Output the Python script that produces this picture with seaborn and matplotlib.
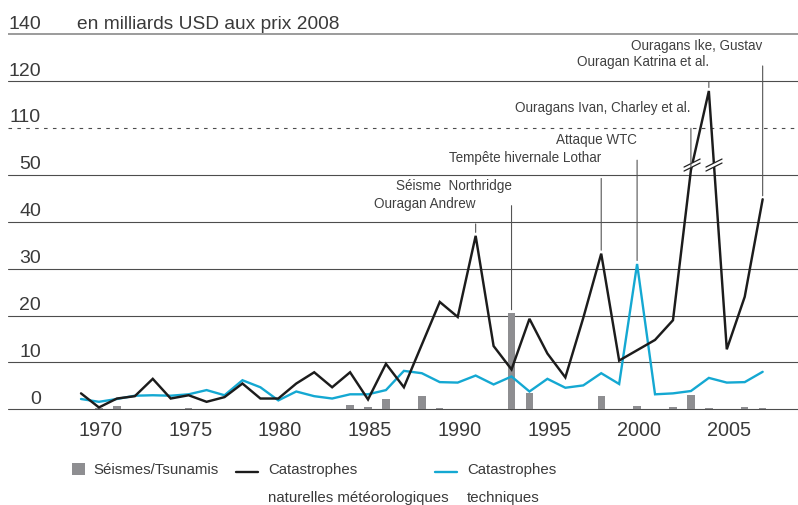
import numpy as np
import pandas as pd
import matplotlib
matplotlib.use("Agg")
import matplotlib.pyplot as plt
import matplotlib.transforms as mtransforms
from matplotlib import font_manager as fm
from matplotlib.lines import Line2D
from matplotlib.patches import Patch
import seaborn as sns

# ---------------- data ----------------
years = list(range(1970, 2009))
seismic = [0.0, 0.3, 0.7, 0.1, 0.0, 0.0, 0.2, 0.0, 0.0, 0.0,
           0.1, 0.0, 0.0, 0.1, 0.0, 0.9, 0.5, 2.2, 0.0, 2.8,
           0.3, 0.0, 0.0, 0.0, 20.5, 3.4, 0.0, 0.0, 0.0, 2.8,
           0.0, 0.7, 0.0, 0.5, 3.0, 0.3, 0.0, 0.5, 0.3]
weather = [3.4, 0.4, 2.3, 2.8, 6.5, 2.3, 3.0, 1.6, 2.6, 5.5,
           2.3, 2.3, 5.5, 7.9, 4.7, 7.9, 2.1, 9.7, 4.7, 13.8,
           22.9, 19.7, 37.0, 13.5, 8.5, 19.3, 11.9, 6.8, 19.5, 33.2,
           10.4, 12.6, 14.8, 19.0, 56.0, 117.9, 12.8, 24.0, 44.8]
technical = [2.2, 1.6, 2.2, 2.9, 3.0, 2.9, 3.2, 4.1, 3.0, 6.2,
             4.7, 1.9, 3.8, 2.8, 2.3, 3.2, 3.2, 4.1, 8.2, 7.7,
             5.8, 5.7, 7.2, 5.3, 7.0, 3.8, 6.5, 4.6, 5.1, 7.7,
             5.4, 31.0, 3.2, 3.4, 3.9, 6.7, 5.7, 5.8, 8.0]

series_names = ["Séismes/Tsunamis",
                "Catastrophes\nnaturelles météorologiques",
                "Catastrophes\ntechniques"]
unit_label = "en milliards USD aux prix 2008"

xtick_years = [1970, 1975, 1980, 1985, 1990, 1995, 2000, 2005]
ytick_labels = ["0", "10", "20", "30", "40", "50", "110", "120", "140"]

events = ["Ouragan Andrew", "Séisme  Northridge", "Tempête hivernale Lothar",
          "Attaque WTC", "Ouragans Ivan, Charley et al.",
          "Ouragan Katrina et al.", "Ouragans Ike, Gustav"]
event_years = [1992, 1994, 1999, 2001, 2004, 2005, 2008]
event_series = ["weather", "seismic", "weather", "technical",
                "weather", "weather", "weather"]

# ---------------- layout / style ----------------
W, H = 798, 505
ytick_slots = [0, 10, 20, 30, 40, 50, 60, 70, 80]   # slot positions of the broken axis
event_label_heights = [43.8, 47.7, 53.5, 57.4, 64.2, 74.1, 77.5]
label_shift = 1.1           # reference year labels sit right of the data points
break_level = 52.1

col_bar = "#8e8e91"
col_weather = "#1c1c1c"
col_tech = "#14a8d2"
col_text = "#3a3a3a"
col_grid = "#4d4d4d"


def to_display(v):
    """Broken axis: linear to 50, compressed 50-110, then linear again."""
    v = np.asarray(v, dtype=float)
    return np.where(v <= 50, v, np.where(v < 110, 50 + (v - 50) / 6.0, v - 50))


sns.set_style("white")
avail = {f.name for f in fm.fontManager.ttflist}
base_font = "Liberation Sans" if "Liberation Sans" in avail else "DejaVu Sans"
if "Liberation Sans Narrow" in avail:
    narrow_font, narrow_scale = "Liberation Sans Narrow", 1.1
else:
    narrow_font, narrow_scale = base_font, 0.87
plt.rcParams["font.family"] = [base_font, "DejaVu Sans"]

df = pd.DataFrame({"year": years, "seismic": seismic,
                   "weather": weather, "technical": technical})
df["weather_d"] = to_display(df["weather"])
df["technical_d"] = to_display(df["technical"])
df["seismic_d"] = to_display(df["seismic"])

fig = plt.figure(figsize=(W / 100, H / 100), dpi=100)
ax_px = (8, 91, 790, 414)    # left, bottom, width, height in pixels
ax = fig.add_axes([ax_px[0] / W, ax_px[1] / H, ax_px[2] / W, ax_px[3] / H])
xlim = (1965.93, 2009.97)
ylim = (-1.0, 87.3)

# horizontal rules of the (broken) value axis
for slot, lab in zip(ytick_slots, ytick_labels):
    if lab == "110":
        ax.axhline(slot, color=col_grid, lw=0.8, ls=(0, (3.2, 4.8)), zorder=0)
    elif lab == "140":
        ax.axhline(slot, color="#808080", lw=1.1, zorder=0)
    else:
        ax.axhline(slot, color=col_grid, lw=0.8, zorder=0)

sns.barplot(data=df, x="year", y="seismic_d", native_scale=True, width=0.41,
            color=col_bar, saturation=1, errorbar=None, linewidth=0,
            ax=ax, zorder=2)
sns.lineplot(data=df, x="year", y="technical_d", color=col_tech, lw=1.7,
             ax=ax, zorder=3, legend=False, solid_joinstyle="miter")
sns.lineplot(data=df, x="year", y="weather_d", color=col_weather, lw=1.75,
             ax=ax, zorder=4, legend=False, solid_joinstyle="miter")

ax.set_xlim(*xlim)
ax.set_ylim(*ylim)
for s in ax.spines.values():
    s.set_visible(False)
ax.set_xlabel("")
ax.set_ylabel("")

# x ticks
ax.set_xticks(np.array(xtick_years) + label_shift, labels=[str(y) for y in xtick_years])
ax.tick_params(axis="x", length=0, pad=5, labelsize=14.3, labelcolor=col_text)

# y tick labels sitting above their rules
ax.set_yticks(ytick_slots, labels=ytick_labels)
ax.tick_params(axis="y", length=0, pad=-23.8, labelsize=14.0, labelcolor=col_text)
up = mtransforms.ScaledTranslation(0, 0.056, fig.dpi_scale_trans)
for lbl in ax.get_yticklabels():
    lbl.set_horizontalalignment("right")
    lbl.set_verticalalignment("baseline")
    lbl.set_transform(lbl.get_transform() + up)

title_tr = mtransforms.blended_transform_factory(ax.transAxes, ax.transData) + up
ax.text((77 - ax_px[0]) / ax_px[2], ytick_slots[-1], unit_label, transform=title_tr,
        ha="left", va="baseline", fontsize=13.8, color=col_text)

# break marks on segments crossing the axis break
px_x = ax_px[2] / (xlim[1] - xlim[0])
px_y = ax_px[3] / (ylim[1] - ylim[0])
wd = df["weather_d"].to_numpy()
L = 9.0
dvec = np.array([1.0, 0.5]) / np.hypot(1.0, 0.5) * L
for i in range(len(years) - 1):
    a, b = wd[i], wd[i + 1]
    if (a - break_level) * (b - break_level) < 0:
        t = (break_level - a) / (b - a)
        xc = years[i] + t
        xs = np.array([xc - dvec[0] / px_x, xc + dvec[0] / px_x])
        ys = np.array([break_level - dvec[1] / px_y, break_level + dvec[1] / px_y])
        ax.plot(xs, ys, color="white", lw=2.6, zorder=5, solid_capstyle="butt")
        for off in (-2.0, 2.0):
            ax.plot(xs, ys + off / px_y, color="#222222", lw=0.9, zorder=6)

# event annotations
series_lookup = {"weather": df["weather_d"], "seismic": df["seismic_d"],
                 "technical": df["technical_d"]}
for name, yr, ser, lh in zip(events, event_years, event_series, event_label_heights):
    target = float(series_lookup[ser][years.index(yr)])
    ax.annotate(name, xy=(yr, target), xytext=(yr, lh), textcoords="data",
                ha="right", va="center", fontsize=11.2 * narrow_scale,
                family=[narrow_font, "DejaVu Sans"], color="#404040",
                arrowprops=dict(arrowstyle="-", color="#555555", lw=0.8,
                                shrinkA=7, shrinkB=2.5, relpos=(1, 0.5)),
                annotation_clip=False, zorder=7)

# legend: three single-entry legends placed like the reference
leg_size = 12.4 * narrow_scale
leg_font = fm.FontProperties(family=[narrow_font, "DejaVu Sans"], size=leg_size)
handles = [Patch(facecolor=col_bar, edgecolor="none"),
           Line2D([], [], color=col_weather, lw=1.7),
           Line2D([], [], color=col_tech, lw=1.7)]
leg_x = [72, 236, 435]
leg_y = (H - 463.0) / H
fs_px = leg_size * 100 / 72.0
for k, (hdl, lab, lx) in enumerate(zip(handles, series_names, leg_x)):
    if k == 0:
        leg = fig.legend([hdl], [lab], loc="upper left", bbox_to_anchor=(lx / W, leg_y),
                         frameon=False, borderpad=0, borderaxespad=0,
                         handlelength=13 / fs_px, handleheight=13 / fs_px,
                         handletextpad=8 / fs_px, prop=leg_font)
    else:
        leg = fig.legend([hdl], [lab], loc="upper left", bbox_to_anchor=(lx / W, leg_y),
                         frameon=False, borderpad=0, borderaxespad=0,
                         handlelength=22 / fs_px, handleheight=2.3,
                         handletextpad=10 / fs_px, prop=leg_font)
        for col in leg._legend_handle_box.get_children():
            for item in col.get_children():
                item.align = "top"
    for t in leg.get_texts():
        t.set_color(col_text)
        t.set_linespacing(31.5 / (0.94 * fs_px))

fig.savefig("out.png", dpi=100)
